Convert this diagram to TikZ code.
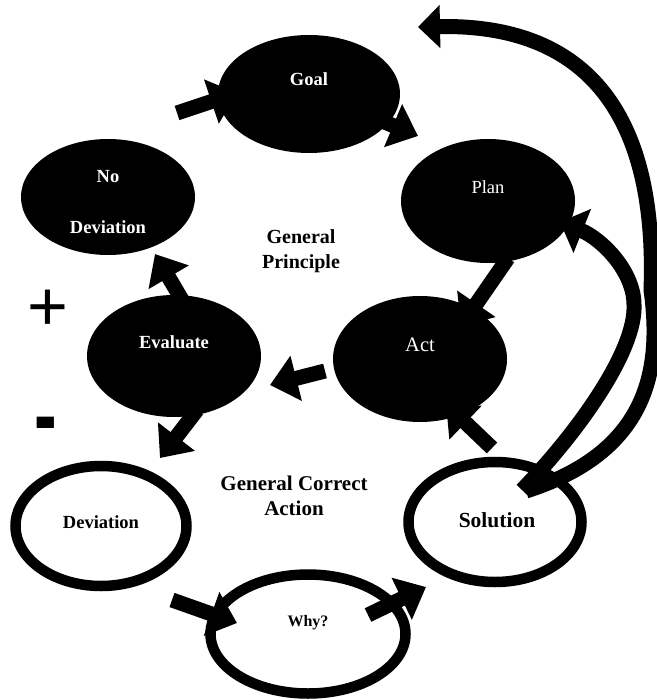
\documentclass[tikz,border=0pt]{standalone}
\usepackage{fontspec}
\setmainfont{Liberation Serif}
\newfontfamily\signfont{Liberation Sans}
\usetikzlibrary{arrows.meta,shapes.geometric,calc}
\begin{document}
\begin{tikzpicture}[x=1pt,y=-1pt,
  blackell/.style={ellipse, fill=black, draw=none, inner sep=0pt, outer sep=0pt},
  whiteell/.style={ellipse, draw=black, line width=10.5pt, fill=white, inner sep=0pt, outer sep=0pt},
  wtext/.style={text=white, inner sep=0pt, font=\fontsize{18.5}{20}\selectfont\bfseries},
  wtextreg/.style={text=white, inner sep=0pt, font=\fontsize{18.5}{20}\selectfont},
  btext/.style={text=black, inner sep=0pt, align=center, font=\fontsize{18.5}{20}\selectfont\bfseries},
  arr/.style={line width=15pt, -{Triangle[width=45pt,length=27pt]}},
  bigarr/.style={line width=15pt, -{Triangle[width=42pt,length=22pt]}},
]
\useasboundingbox (0,0) rectangle (656,700);

% black ellipses
\node[blackell, minimum width=182pt, minimum height=118pt] (goal) at (309,94) {};
\node[blackell, minimum width=174pt, minimum height=116pt] (nodev) at (108,197) {};
\node[blackell, minimum width=174pt, minimum height=124pt] (plan) at (488,201) {};
\node[blackell, minimum width=174pt, minimum height=122pt] (eval) at (174,356) {};
\node[blackell, minimum width=174pt, minimum height=126pt] (act) at (420,359) {};

% white ellipses
\node[whiteell, minimum width=171pt, minimum height=120pt] (dev) at (101,526) {};
\node[whiteell, minimum width=173pt, minimum height=120pt] (sol) at (495,522) {};
\node[whiteell, minimum width=195pt, minimum height=119pt] (why) at (308,634) {};

% free ends
\coordinate (t1) at (177,113);
\coordinate (h2) at (418,136);
\coordinate (h10) at (418,27);

% short arrows
\draw[arr] (t1) -- ($(goal.center)+(-72,-1)$);
\draw[arr] ($(goal.center)+(66,24)$) -- (h2);
\draw[arr] ($(plan.center)+(20,57)$) -- ($(act.center)+(41,-33)$);
\draw[arr] ($(act.west)+(-8,12)$) -- ($(eval.east)+(9,29)$);
\draw[arr] ($(eval.center)+(11,-51)$) -- ($(nodev.center)+(47,57)$);
\draw[arr] ($(eval.center)+(23,54)$) -- ($(dev.center)+(59,-68)$);
\draw[arr] ($(sol.center)+(-3,-74)$) -- ($(act.center)+(26,45)$);
\draw[arr] ($(dev.center)+(71,74)$) -- ($(why.center)+(-71,-11)$);
\draw[arr] ($(why.center)+(60,-19)$) -- ($(sol.center)+(-69,65)$);

% long curved arrows
\draw[bigarr] ($(sol.center)+(31,-31)$) .. controls (648,452) and (662,370) .. (651,290)
   .. controls (658,95) and (570,24) .. (h10);
\draw[line width=15pt, -{Triangle[width=46pt,length=24pt]}] ($(sol.center)+(27,-32)$)
   .. controls (580,430) and (636,350) .. (634,305)
   .. controls (634,270) and (600,238) .. ($(plan.center)+(72,21)$);

% texts
\node[wtext] (goalt) at (309,79) {Goal};
\node[wtext] (ndt1) at (108,177) {No};
\node[wtext] (ndt2) at (108,227) {Deviation};
\node[wtextreg] (plant) at (488,187) {Plan};
\node[wtext] (evalt) at (174,342) {Evaluate};
\node[wtextreg, font=\fontsize{20.5}{22}\selectfont] (actt) at (420,345) {Act};
\node[btext, font=\fontsize{20}{25}\selectfont\bfseries] (gp) at (301,251) {General\\Principle};
\node[btext, font=\fontsize{21}{25}\selectfont\bfseries] (gca) at (294,496) {General Correct\\Action};
\node[btext] (devt) at (101,522) {Deviation};
\node[btext, font=\fontsize{21.5}{23}\selectfont\bfseries] (solt) at (497,520) {Solution};
\node[btext, font=\fontsize{16}{18}\selectfont\bfseries] (whyt) at (308,623) {Why?};
\node[inner sep=0pt, font=\fontsize{70}{70}\signfont] (plus) at (48,310) {+};
\node[inner sep=0pt, font=\fontsize{68}{68}\signfont\bfseries] (minus) at (46,432) {\scalebox{1}[1.4]{-}};
\end{tikzpicture}
\end{document}
